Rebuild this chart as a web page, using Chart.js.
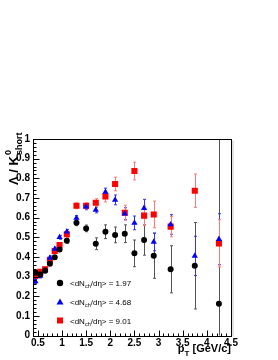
<!DOCTYPE html>
<html>
<head>
<meta charset="utf-8">
<script src="https://cdn.jsdelivr.net/npm/chart.js@4/dist/chart.umd.min.js"></script>
<style>
  html, body { margin: 0; padding: 0; background: #fff; }
  #wrap { width: 278px; height: 360px; }
</style>
</head>
<body>
<div id="wrap"><canvas id="chart" width="278" height="360"></canvas></div>
<script>
// p_T bin centres (GeV/c)
const ptBins = [0.45, 0.55, 0.65, 0.75, 0.85, 0.95, 1.1, 1.3, 1.5, 1.7, 1.9, 2.1, 2.3, 2.5, 2.7, 2.9, 3.25, 3.75, 4.25];

// <dNch/deta> = 1.97
const lowMult = [0.32, 0.31, 0.33, 0.365, 0.398, 0.438, 0.482, 0.574, 0.545, 0.467, 0.528, 0.512, 0.518, 0.418, 0.486, 0.406, 0.337, 0.355, 0.162];
const lowMultErr = [0.006, 0.006, 0.007, 0.008, 0.009, 0.01, 0.012, 0.015, 0.017, 0.03, 0.035, 0.04, 0.045, 0.068, 0.077, 0.115, 0.12, 0.22, 0.9];

// <dNch/deta> = 4.68
const midMult = [0.275, 0.303, 0.33, 0.395, 0.44, 0.5, 0.528, 0.598, 0.655, 0.639, 0.73, 0.69, 0.62, 0.573, 0.648, 0.476, 0.565, 0.405, 0.49];
const midMultErr = [0.01, 0.01, 0.01, 0.01, 0.01, 0.01, 0.012, 0.012, 0.015, 0.015, 0.02, 0.025, 0.03, 0.035, 0.045, 0.045, 0.05, 0.1, 0.13];

// <dNch/deta> = 9.01
const highMult = [0.303, 0.324, 0.337, 0.385, 0.43, 0.46, 0.515, 0.66, 0.66, 0.676, 0.708, 0.771, 0.625, 0.837, 0.61, 0.616, 0.554, 0.737, 0.469];
const highMultErr = [0.01, 0.012, 0.012, 0.012, 0.012, 0.012, 0.015, 0.015, 0.015, 0.02, 0.028, 0.035, 0.038, 0.045, 0.05, 0.068, 0.052, 0.085, 0.12];

const legendValues = ['1.97', '4.68', '9.01'];
const xTicks = [0.5, 1, 1.5, 2, 2.5, 3, 3.5, 4, 4.5];
const yTicks = [0, 0.1, 0.2, 0.3, 0.4, 0.5, 0.6, 0.7, 0.8, 0.9, 1];

const toPoints = (vals, errs) => vals.map((v, i) => ({ x: ptBins[i], y: v, err: errs[i] }));

const tickFont = { family: 'Liberation Sans', size: 10, weight: 'bold' };

// error bars, drawn through the scales and clipped to the frame
const errorBars = {
  id: 'errorBars',
  beforeDatasetsDraw(chart) {
    const { ctx, chartArea, scales } = chart;
    ctx.save();
    ctx.beginPath();
    ctx.rect(chartArea.left, chartArea.top, chartArea.right - chartArea.left, chartArea.bottom - chartArea.top);
    ctx.clip();
    chart.data.datasets.forEach(ds => {
      ctx.strokeStyle = ds.errColor;
      ctx.lineWidth = 1;
      ds.data.forEach(p => {
        const x = Math.round(scales.x.getPixelForValue(p.x)) + 0.5;
        const y1 = scales.y.getPixelForValue(p.y + p.err);
        const y2 = scales.y.getPixelForValue(p.y - p.err);
        ctx.beginPath();
        ctx.moveTo(x, y1); ctx.lineTo(x, y2);
        ctx.moveTo(x - 1.5, y1); ctx.lineTo(x + 1.5, y1);
        ctx.moveTo(x - 1.5, y2); ctx.lineTo(x + 1.5, y2);
        ctx.stroke();
      });
    });
    ctx.restore();
  }
};

// ROOT style frame, inward ticks, axis titles and legend
const frameDecor = {
  id: 'frameDecor',
  afterDraw(chart) {
    const { ctx, chartArea: a, scales } = chart;
    ctx.save();
    ctx.strokeStyle = '#000';
    ctx.lineWidth = 1;
    const L = Math.round(a.left) + 0.5, R = Math.round(a.right) + 0.5;
    const T = Math.round(a.top) + 0.5, B = Math.round(a.bottom) + 0.5;
    ctx.strokeRect(L, T, R - L, B - T);
    ctx.strokeStyle = '#c8c8c8';
    ctx.beginPath();
    ctx.moveTo(R + 1.5, T + 1); ctx.lineTo(R + 1.5, B);
    ctx.stroke();

    ctx.strokeStyle = '#000';
    ctx.beginPath();
    for (let i = 0; i <= 41; i++) {
      const v = 0.4 + i * 0.1;
      if (v > 4.5001) break;
      const x = Math.round(scales.x.getPixelForValue(v)) + 0.5;
      const major = Math.abs(v * 2 - Math.round(v * 2)) < 1e-6;
      ctx.moveTo(x, B); ctx.lineTo(x, B - (major ? 6 : 3));
    }
    for (let i = 0; i <= 50; i++) {
      const v = i * 0.02;
      const y = Math.round(scales.y.getPixelForValue(v)) + 0.5;
      const major = i % 5 === 0;
      ctx.moveTo(L, y); ctx.lineTo(L + (major ? 6 : 3), y);
    }
    ctx.stroke();

    // y title
    ctx.fillStyle = '#000';
    ctx.save();
    ctx.translate(18, 185);
    ctx.rotate(-Math.PI / 2);
    ctx.textBaseline = 'alphabetic';
    ctx.font = 'bold 13px "Liberation Sans"';
    ctx.fillText('Λ / K', 0, 0);
    let w = ctx.measureText('Λ / K').width;
    ctx.font = 'bold 9px "Liberation Sans"';
    ctx.fillText('0', w + 1, -7);
    ctx.fillText('short', w + 1, 4);
    ctx.restore();

    // x title
    ctx.font = 'bold 11px "Liberation Sans"';
    ctx.textBaseline = 'alphabetic';
    const rest = ' [GeV/c]';
    const wr = ctx.measureText(rest).width;
    ctx.font = 'bold 8px "Liberation Sans"';
    const wt = ctx.measureText('T').width;
    ctx.font = 'bold 11px "Liberation Sans"';
    const wp = ctx.measureText('p').width;
    let x0 = 231 - wr - wt - wp;
    ctx.fillText('p', x0, 352);
    ctx.fillText(rest, x0 + wp + wt, 352);
    ctx.font = 'bold 8px "Liberation Sans"';
    ctx.fillText('T', x0 + wp, 356);

    // legend
    const rows = [283, 302, 320.5];
    chart.data.datasets.forEach((ds, i) => {
      const y = rows[i];
      ctx.fillStyle = ds.backgroundColor;
      ctx.beginPath();
      if (ds.pointStyle === 'circle') {
        ctx.arc(60, y, 3.2, 0, Math.PI * 2);
      } else if (ds.pointStyle === 'triangle') {
        ctx.moveTo(60, y - 3.5); ctx.lineTo(63.5, y + 2.5); ctx.lineTo(56.5, y + 2.5); ctx.closePath();
      } else {
        ctx.rect(57, y - 3, 6, 6);
      }
      ctx.fill();
      ctx.fillStyle = '#000';
      ctx.font = '8px "Liberation Sans"';
      let tx = 70;
      ctx.fillText('<dN', tx, y + 3);
      tx += ctx.measureText('<dN').width;
      ctx.font = '5.5px "Liberation Sans"';
      ctx.fillText('ch', tx, y + 5);
      tx += ctx.measureText('ch').width;
      ctx.font = '8px "Liberation Sans"';
      ctx.fillText('/dη> = ' + legendValues[i], tx, y + 3);
    });
    ctx.restore();
  }
};

new Chart(document.getElementById('chart'), {
  type: 'scatter',
  data: {
    datasets: [
      { data: toPoints(lowMult, lowMultErr), pointStyle: 'circle', pointRadius: 3, backgroundColor: '#000', borderColor: '#000', borderWidth: 0, errColor: '#555' },
      { data: toPoints(midMult, midMultErr), pointStyle: 'triangle', pointRadius: 3.6, backgroundColor: '#0000ff', borderColor: '#0000ff', borderWidth: 0, errColor: '#3333ff' },
      { data: toPoints(highMult, highMultErr), pointStyle: 'rect', pointRadius: 4.3, backgroundColor: '#ff0000', borderColor: '#ff0000', borderWidth: 0, errColor: '#ff7777' }
    ]
  },
  options: {
    responsive: false,
    animation: false,
    layout: { padding: { left: 0, right: 47, top: 139, bottom: 0 } },
    plugins: { legend: { display: false }, tooltip: { enabled: false } },
    scales: {
      x: {
        type: 'linear', min: 0.4, max: 4.5,
        afterBuildTicks: s => { s.ticks = xTicks.map(v => ({ value: v })); },
        afterFit: s => { s.height = 24.5; },
        grid: { display: false, drawTicks: false },
        border: { display: false },
        ticks: { color: '#000', font: tickFont, padding: 2, maxRotation: 0, autoSkip: false, callback: v => String(v) }
      },
      y: {
        type: 'linear', min: 0, max: 1,
        afterBuildTicks: s => { s.ticks = yTicks.map(v => ({ value: v })); },
        afterFit: s => { s.width = 33; },
        grid: { display: false, drawTicks: false },
        border: { display: false },
        ticks: { color: '#000', font: tickFont, padding: 3, autoSkip: false, callback: v => String(v) }
      }
    }
  },
  plugins: [errorBars, frameDecor]
});
</script>
</body>
</html>
